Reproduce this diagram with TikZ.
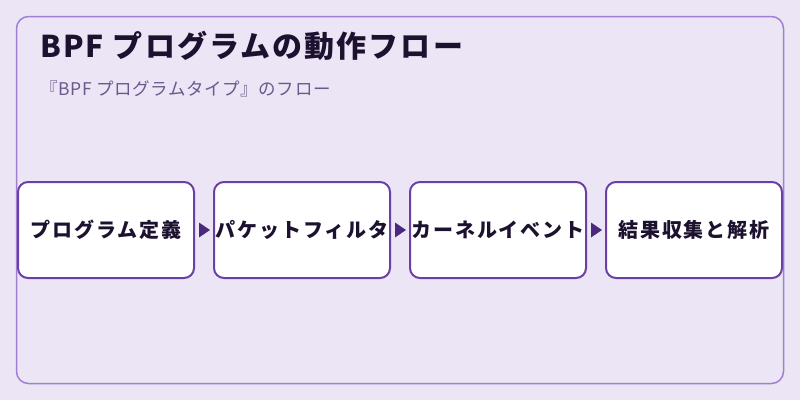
\documentclass[tikz,border=0pt]{standalone}
\usepackage{fontspec}
\setmainfont{Noto Sans CJK JP}
\usetikzlibrary{calc}
\definecolor{bgc}{HTML}{ECE5F5}
\definecolor{framec}{HTML}{A07FD2}
\definecolor{boxc}{HTML}{6A40A6}
\definecolor{arrc}{HTML}{4B2A7E}
\definecolor{titlec}{HTML}{1D1130}
\definecolor{subc}{HTML}{6A5A8C}
\tikzset{
  stepbox/.style={draw=boxc, line width=2pt, fill=white, rounded corners=10pt,
    minimum width=176pt, minimum height=96pt, inner sep=0pt,
    font=\fontsize{20pt}{24pt}\selectfont\bfseries\addfontfeature{LetterSpace=9}, text=titlec},
  flowhead/.style={fill=arrc}
}
\newcommand{\flowarrow}[2]{%
  \fill[flowhead] ($(#1.east)+(4,-7.5)$) -- ($(#2.west)+(-3,0)$) -- ($(#1.east)+(4,7.5)$) -- cycle;}
\begin{document}
\begin{tikzpicture}[x=1pt,y=-1pt]
\useasboundingbox (0,0) rectangle (800,400);
\fill[bgc] (0,0) rectangle (800,400);
\draw[framec, line width=1.5pt, rounded corners=12pt] (16.5,16.5) rectangle (783.5,383.5);
\node[anchor=base west, inner sep=0pt, text=titlec, font=\fontsize{30pt}{36pt}\selectfont\bfseries\addfontfeature{LetterSpace=7}] (title) at (40,57) {BPF プログラムの動作フロー};
\node[anchor=base west, inner sep=0pt, text=subc, font=\fontsize{17.5pt}{21pt}\selectfont\addfontfeature{LetterSpace=3.5}] (sub) at (40,95) {『BPF プログラムタイプ』のフロー};
\node[stepbox] (b1) at (106,230) {プログラム定義};
\node[stepbox] (b2) at (302,230) {パケットフィルタ};
\node[stepbox] (b3) at (498,230) {カーネルイベント};
\node[stepbox] (b4) at (694,230) {結果収集と解析};
\flowarrow{b1}{b2}
\flowarrow{b2}{b3}
\flowarrow{b3}{b4}
\end{tikzpicture}
\end{document}
